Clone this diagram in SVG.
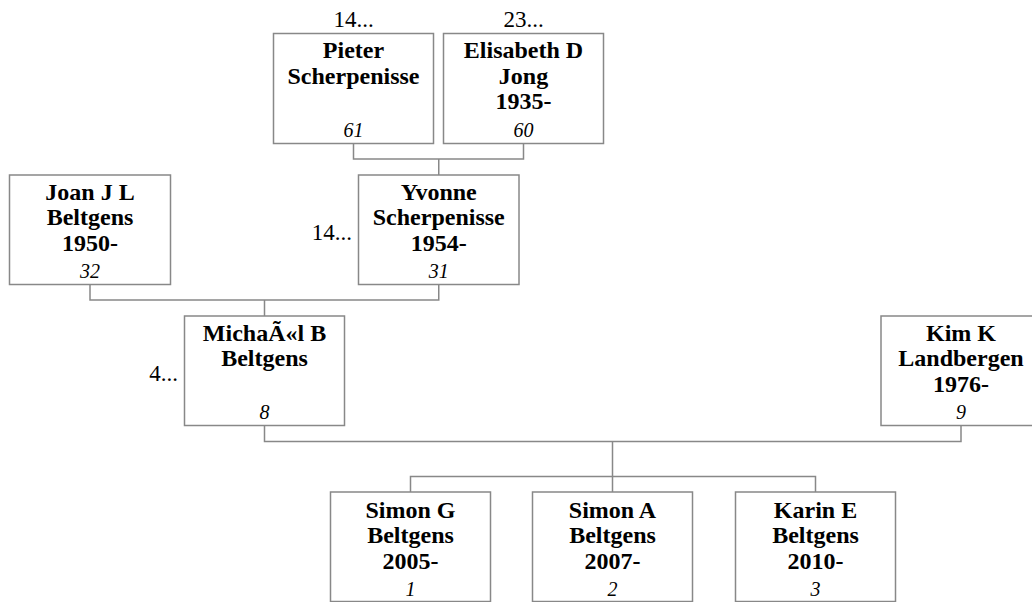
<svg xmlns="http://www.w3.org/2000/svg" width="1032" height="602" viewBox="0 0 1032 602">
<style>
.box{fill:#fff;stroke:#888;stroke-width:1.5}
.n{font-family:"Liberation Serif","Times New Roman",serif;font-weight:bold;font-size:24px;text-anchor:middle;fill:#000}
.id{font-family:"Liberation Serif","Times New Roman",serif;font-style:italic;font-size:20px;text-anchor:middle;fill:#000}
.more{font-family:"Liberation Serif","Times New Roman",serif;font-size:23px;fill:#000}
.c{fill:none;stroke:#888;stroke-width:1.5}
</style>
<rect width="1032" height="602" fill="#fff"/>
<g id="connectors">
<path class="c" d="M353.5 143.5V159H523.5V143.5M438.75 159V175"/>
<path class="c" d="M90 284.5V300H438.75V284.5M264.5 300V316"/>
<path class="c" d="M264.5 425.5V441.5H961V425.5M612.5 441.5V492"/>
<path class="c" d="M410.5 492V476.5H815.5V492"/>
</g>
<g id="pieter">
<rect class="box" x="273.5" y="33.5" width="160" height="110"/>
<text class="more" x="353.5" y="27" text-anchor="middle">14...</text>
<text class="n" x="353.5" y="58">Pieter</text>
<text class="n" x="353.5" y="83.5">Scherpenisse</text>
<text class="id" x="353.5" y="136.5">61</text>
</g>
<g id="elisabeth">
<rect class="box" x="443.5" y="33.5" width="160" height="110"/>
<text class="more" x="523.5" y="27" text-anchor="middle">23...</text>
<text class="n" x="523.5" y="58">Elisabeth D</text>
<text class="n" x="523.5" y="83.5">Jong</text>
<text class="n" x="523.5" y="109">1935-</text>
<text class="id" x="523.5" y="136.5">60</text>
</g>
<g id="joan">
<rect class="box" x="9.5" y="175" width="161" height="109.5"/>
<text class="n" x="90" y="199.5">Joan J L</text>
<text class="n" x="90" y="225">Beltgens</text>
<text class="n" x="90" y="250.5">1950-</text>
<text class="id" x="90" y="278">32</text>
</g>
<g id="yvonne">
<rect class="box" x="358.5" y="175" width="160.5" height="109.5"/>
<text class="more" x="352" y="239.5" text-anchor="end">14...</text>
<text class="n" x="438.75" y="199.5">Yvonne</text>
<text class="n" x="438.75" y="225">Scherpenisse</text>
<text class="n" x="438.75" y="250.5">1954-</text>
<text class="id" x="438.75" y="278">31</text>
</g>
<g id="michael">
<rect class="box" x="184.5" y="316" width="160" height="109.5"/>
<text class="more" x="178" y="381" text-anchor="end">4...</text>
<text class="n" x="264.5" y="340.5">MichaÃ«l B</text>
<text class="n" x="264.5" y="366">Beltgens</text>
<text class="id" x="264.5" y="419">8</text>
</g>
<g id="kim">
<rect class="box" x="881" y="316" width="160" height="109.5"/>
<text class="n" x="961" y="340.5">Kim K</text>
<text class="n" x="961" y="366">Landbergen</text>
<text class="n" x="961" y="391.5">1976-</text>
<text class="id" x="961" y="419">9</text>
</g>
<g id="simon-g">
<rect class="box" x="330.5" y="492" width="160" height="109.5"/>
<text class="n" x="410.5" y="517.5">Simon G</text>
<text class="n" x="410.5" y="543">Beltgens</text>
<text class="n" x="410.5" y="568.5">2005-</text>
<text class="id" x="410.5" y="596">1</text>
</g>
<g id="simon-a">
<rect class="box" x="532.5" y="492" width="160" height="109.5"/>
<text class="n" x="612.5" y="517.5">Simon A</text>
<text class="n" x="612.5" y="543">Beltgens</text>
<text class="n" x="612.5" y="568.5">2007-</text>
<text class="id" x="612.5" y="596">2</text>
</g>
<g id="karin">
<rect class="box" x="735.5" y="492" width="160" height="109.5"/>
<text class="n" x="815.5" y="517.5">Karin E</text>
<text class="n" x="815.5" y="543">Beltgens</text>
<text class="n" x="815.5" y="568.5">2010-</text>
<text class="id" x="815.5" y="596">3</text>
</g>
</svg>
